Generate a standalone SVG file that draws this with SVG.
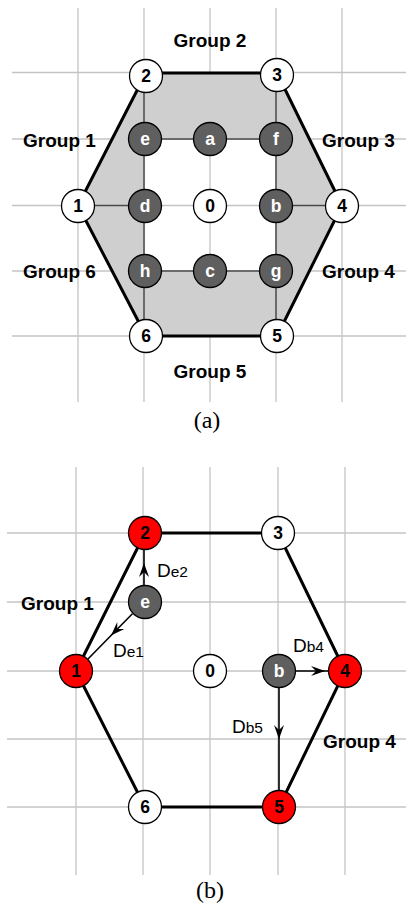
<svg xmlns="http://www.w3.org/2000/svg" width="406" height="905" viewBox="0 0 406 905">
  <style>
    .grid line { stroke: #c4c4c4; stroke-width: 1.3; }
    .edge { fill: none; stroke: #000; stroke-width: 3; stroke-linejoin: round; }
    .link { fill: none; stroke: #4a4a4a; stroke-width: 1.5; }
    .arrow { fill: none; stroke: #000; stroke-width: 1.6; marker-mid: url(#ah); }
    .node circle { stroke: #000; stroke-width: 1.3; }
    .node text { font-family: "Liberation Sans", Arial, sans-serif; font-weight: bold; font-size: 17.5px; text-anchor: middle; }
    .w circle { fill: #fff; }
    .w text { fill: #000; }
    .k circle { fill: #5f5f5f; }
    .k text { fill: #fff; }
    .r circle { fill: #f00; }
    .r text { fill: #000; }
    .grp { font-family: "Liberation Sans", Arial, sans-serif; font-weight: bold; font-size: 19px; fill: #000; }
    .dl { font-family: "Liberation Sans", Arial, sans-serif; font-size: 19px; fill: #000; }
    .dl tspan { font-size: 15.5px; }
    .cap { font-family: "Liberation Serif", "Times New Roman", serif; font-size: 24px; text-anchor: middle; fill: #000; }
  </style>
  <defs>
    <marker id="ah" viewBox="-15 -6 16 12" refX="0" refY="0" markerWidth="16" markerHeight="12" markerUnits="userSpaceOnUse" orient="auto">
      <path d="M0,0 L-14,-5 L-9,0 L-14,5 Z" fill="#000"/>
    </marker>
  </defs>

  <rect width="406" height="905" fill="#fff"/>

  <!-- panel (a): grid -->
  <g class="grid" id="grid-a">
    <line x1="78" y1="8" x2="78" y2="402"/>
    <line x1="144" y1="8" x2="144" y2="402"/>
    <line x1="210" y1="8" x2="210" y2="402"/>
    <line x1="276" y1="8" x2="276" y2="402"/>
    <line x1="342" y1="8" x2="342" y2="402"/>
    <line x1="12" y1="72.5" x2="406" y2="72.5"/>
    <line x1="12" y1="139" x2="406" y2="139"/>
    <line x1="12" y1="205.5" x2="406" y2="205.5"/>
    <line x1="12" y1="271" x2="406" y2="271"/>
    <line x1="12" y1="336" x2="406" y2="336"/>
  </g>

  <!-- panel (b): grid -->
  <g class="grid" id="grid-b">
    <line x1="76" y1="467" x2="76" y2="875"/>
    <line x1="143" y1="467" x2="143" y2="875"/>
    <line x1="210" y1="467" x2="210" y2="875"/>
    <line x1="278" y1="467" x2="278" y2="875"/>
    <line x1="345" y1="467" x2="345" y2="875"/>
    <line x1="7" y1="533" x2="406" y2="533"/>
    <line x1="7" y1="602" x2="406" y2="602"/>
    <line x1="7" y1="671" x2="406" y2="671"/>
    <line x1="7" y1="739" x2="406" y2="739"/>
    <line x1="7" y1="807" x2="406" y2="807"/>
  </g>

  <!-- panel (a): shaded ring between hexagon and inner square -->
  <path id="ring" fill="#cfcfcf" fill-rule="evenodd"
        d="M78,205.5 L146,73 L277,73 L342,205.5 L277,336 L146,336 Z M144,139 L276,139 L276,271 L144,271 Z"/>

  <!-- connectors -->
  <g id="connectors">
    <!-- (a) inner links -->
    <path class="link" d="M144,73 V336 M276,73 V336 M144,139 H276 M144,271 H276 M78,205.5 H144 M276,205.5 H342"/>
    <!-- (a) hexagon -->
    <polygon class="edge" points="78,205.5 146,73 277,73 342,205.5 277,336 146,336"/>
    <!-- (b) hexagon -->
    <polygon class="edge" points="76,671 145,533 278,533 345,671 279,807 145,807"/>
    <!-- (b) arrows -->
    <polyline class="arrow" points="144,585.5 144,563 144,549.5"/>
    <polyline class="arrow" points="132.4,613.7 111,635.5 88,659"/>
    <polyline class="arrow" points="295.5,671 325,671 328.5,671"/>
    <polyline class="arrow" points="279,687.5 279,739 279,790.5"/>
  </g>

  <!-- panel (a): nodes -->
  <g id="a-n1" class="node w"><circle cx="78" cy="206" r="16.5"/><text x="78" y="212">1</text></g>
  <g id="a-n2" class="node w"><circle cx="146" cy="76" r="16.5"/><text x="146" y="82">2</text></g>
  <g id="a-n3" class="node w"><circle cx="277" cy="75" r="16.5"/><text x="277" y="81">3</text></g>
  <g id="a-n4" class="node w"><circle cx="342" cy="206" r="16.5"/><text x="342" y="212">4</text></g>
  <g id="a-n5" class="node w"><circle cx="277" cy="336" r="16.5"/><text x="277" y="342">5</text></g>
  <g id="a-n6" class="node w"><circle cx="146" cy="336" r="16.5"/><text x="146" y="342">6</text></g>
  <g id="a-n0" class="node w"><circle cx="210" cy="206" r="16.5"/><text x="210" y="212">0</text></g>
  <g id="a-na" class="node k"><circle cx="210" cy="139" r="16.5"/><text x="210" y="145">a</text></g>
  <g id="a-nb" class="node k"><circle cx="276" cy="206" r="16.5"/><text x="276" y="212">b</text></g>
  <g id="a-nc" class="node k"><circle cx="210" cy="271" r="16.5"/><text x="210" y="277">c</text></g>
  <g id="a-nd" class="node k"><circle cx="145" cy="206" r="16.5"/><text x="145" y="212">d</text></g>
  <g id="a-ne" class="node k"><circle cx="145" cy="139" r="16.5"/><text x="145" y="145">e</text></g>
  <g id="a-nf" class="node k"><circle cx="276" cy="139" r="16.5"/><text x="276" y="145">f</text></g>
  <g id="a-ng" class="node k"><circle cx="276" cy="271" r="16.5"/><text x="276" y="277">g</text></g>
  <g id="a-nh" class="node k"><circle cx="145" cy="271" r="16.5"/><text x="145" y="277">h</text></g>

  <!-- panel (a): group labels -->
  <g id="a-labels">
    <text class="grp" x="23" y="147">Group 1</text>
    <text class="grp" x="210" y="47" text-anchor="middle">Group 2</text>
    <text class="grp" x="322" y="147">Group 3</text>
    <text class="grp" x="322" y="278">Group 4</text>
    <text class="grp" x="210" y="378" text-anchor="middle">Group 5</text>
    <text class="grp" x="23" y="278">Group 6</text>
    <text class="cap" x="207" y="428">(a)</text>
  </g>

  <!-- panel (b): nodes -->
  <g id="b-n1" class="node r"><circle cx="76" cy="671" r="16.5"/><text x="76" y="677">1</text></g>
  <g id="b-n2" class="node r"><circle cx="145" cy="533" r="16.5"/><text x="145" y="539">2</text></g>
  <g id="b-n3" class="node w"><circle cx="278" cy="533" r="16.5"/><text x="278" y="539">3</text></g>
  <g id="b-n4" class="node r"><circle cx="345" cy="671" r="16.5"/><text x="345" y="677">4</text></g>
  <g id="b-n5" class="node r"><circle cx="279" cy="807" r="16.5"/><text x="279" y="813">5</text></g>
  <g id="b-n6" class="node w"><circle cx="145" cy="807" r="16.5"/><text x="145" y="813">6</text></g>
  <g id="b-n0" class="node w"><circle cx="210" cy="671" r="16.5"/><text x="210" y="677">0</text></g>
  <g id="b-ne" class="node k"><circle cx="145" cy="602" r="16.5"/><text x="145" y="608">e</text></g>
  <g id="b-nb" class="node k"><circle cx="279" cy="671" r="16.5"/><text x="279" y="677">b</text></g>

  <!-- panel (b): labels -->
  <g id="b-labels">
    <text class="grp" x="21" y="610">Group 1</text>
    <text class="grp" x="323" y="748">Group 4</text>
    <text class="dl" x="157" y="577">D<tspan>e2</tspan></text>
    <text class="dl" x="113" y="657">D<tspan>e1</tspan></text>
    <text class="dl" x="293" y="652">D<tspan>b4</tspan></text>
    <text class="dl" x="232" y="733">D<tspan>b5</tspan></text>
    <text class="cap" x="210" y="898">(b)</text>
  </g>
</svg>
